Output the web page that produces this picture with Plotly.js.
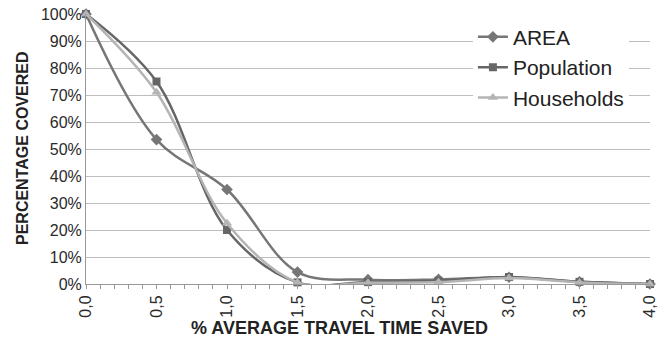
<!DOCTYPE html>
<html>
<head>
<meta charset="utf-8">
<script src="https://cdn.plot.ly/plotly-3.0.1.min.js"></script>
<style>html,body{margin:0;padding:0;background:#fff;}#chart{width:660px;height:344px;}</style>
</head>
<body>
<div id="chart"></div>
<script>
const timeSaved = [0.0, 0.5, 1.0, 1.5, 2.0, 2.5, 3.0, 3.5, 4.0];
const area = [1.00, 0.535, 0.35, 0.044, 0.016, 0.017, 0.025, 0.008, 0.0];
const population = [1.00, 0.75, 0.20, 0.006, 0.007, 0.012, 0.026, 0.008, 0.0];
const households = [1.00, 0.71, 0.225, 0.006, 0.005, 0.007, 0.022, 0.006, 0.0];
const seriesNames = ["AREA", "Population", "Households"];
const xTitle = "% AVERAGE TRAVEL TIME SAVED";
const yTitle = "PERCENTAGE COVERED";

const font = "Liberation Sans, Arial, sans-serif";
function tr(name, y, color, symbol, size) {
  return {
    x: timeSaved, y: y, name: name, type: 'scatter', mode: 'lines+markers',
    line: {color: color, width: 2.5, shape: 'spline', smoothing: 1},
    marker: {color: color, symbol: symbol, size: size},
    cliponaxis: false
  };
}
const data = [
  tr(seriesNames[0], area, '#767676', 'diamond', 9),
  tr(seriesNames[1], population, '#666666', 'square', 8),
  tr(seriesNames[2], households, '#b4b4b4', 'triangle-up', 9)
];
const layout = {
  width: 660, height: 344,
  margin: {l: 86, r: 10, t: 14, b: 60},
  separators: ',.',
  paper_bgcolor: '#fff', plot_bgcolor: '#fff',
  font: {family: font, color: '#333', size: 16},
  showlegend: true,
  legend: {x: 0.686, y: 0.99, xanchor: 'left', yanchor: 'top', bgcolor: '#fff',
           font: {size: 21, color: '#222', family: font}, itemwidth: 30,
           tracegroupgap: 0, borderwidth: 0},
  xaxis: {range: [0, 4], tickmode: 'linear', tick0: 0, dtick: 0.5, tickformat: '.1f',
          tickangle: -90, showgrid: false, zeroline: false, showline: true,
          linecolor: '#999', linewidth: 1, ticks: 'outside', ticklen: 4, tickcolor: '#999',
          minor: {dtick: 0.1, ticks: 'outside', ticklen: 4, tickcolor: '#999', showgrid: false},
          tickfont: {size: 16, color: '#2a2a2a'}},
  yaxis: {range: [0, 1], tickmode: 'linear', tick0: 0, dtick: 0.1, tickformat: '.0%',
          showgrid: true, gridcolor: '#bdbdbd', gridwidth: 1, zeroline: false,
          showline: true, linecolor: '#999', linewidth: 1, ticks: '',
          tickfont: {size: 16, color: '#2a2a2a'}},
  annotations: [
    {text: '<b>' + xTitle + '</b>', xref: 'paper', yref: 'paper', x: (339-86)/564, y: -(328-284)/270,
     xanchor: 'center', yanchor: 'middle', showarrow: false, font: {size: 18, color: '#222'}},
    {text: '<b>' + yTitle + '</b>', xref: 'paper', yref: 'paper', x: -(86-22)/564, y: (284-148)/270,
     xanchor: 'center', yanchor: 'middle', showarrow: false, textangle: -90, font: {size: 16, color: '#222'}}
  ]
};
Plotly.newPlot('chart', data, layout, {displayModeBar: false, staticPlot: true});
</script>
</body>
</html>
